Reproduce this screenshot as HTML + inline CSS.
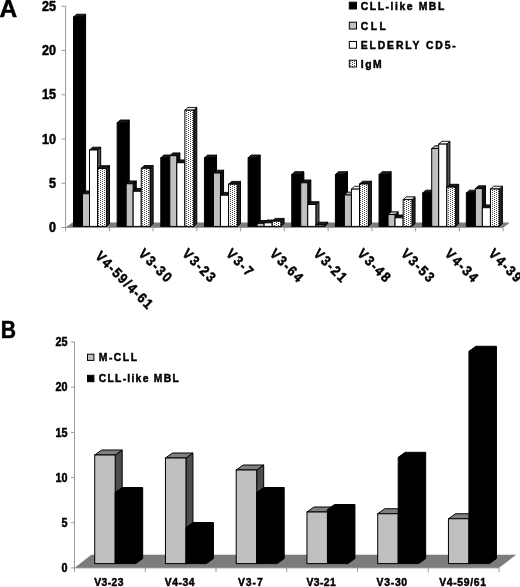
<!DOCTYPE html>
<html><head><meta charset="utf-8"><title>Figure</title>
<style>
html,body{margin:0;padding:0;background:#fff;}
body{width:520px;height:587px;overflow:hidden;font-family:"Liberation Sans",sans-serif;}
svg{display:block;will-change:transform;transform:translateZ(0);}
</style></head><body>
<svg width="520" height="587" viewBox="0 0 520 587">
<defs>
<pattern id="dots" width="4" height="2" patternUnits="userSpaceOnUse">
<rect width="4" height="2" fill="#fff"/>
<rect x="0" y="0" width="1" height="1" fill="#484848"/>
<rect x="2" y="1" width="1" height="1" fill="#484848"/>
</pattern>
</defs>
<rect width="520" height="587" fill="#fff"/>
<polygon points="65.6,227.5 503.4,227.5 510,222.5 72.5,222.5" fill="#7c7c7c"/>
<path d="M65.6 6.3V227.5H503.1" fill="none" stroke="#999" stroke-width="1"/>
<path d="M61.6 227.5H65.6" stroke="#999" stroke-width="1"/>
<text transform="translate(49.1 232.1) scale(0.9 1)" font-size="14" font-family="Liberation Sans, sans-serif" font-weight="bold" stroke="#000" stroke-width="0.5" textLength="7.67" lengthAdjust="spacing" >0</text>
<path d="M61.6 183.26H65.6" stroke="#999" stroke-width="1"/>
<text transform="translate(49.1 187.86) scale(0.9 1)" font-size="14" font-family="Liberation Sans, sans-serif" font-weight="bold" stroke="#000" stroke-width="0.5" textLength="7.67" lengthAdjust="spacing" >5</text>
<path d="M61.6 139.02H65.6" stroke="#999" stroke-width="1"/>
<text transform="translate(42.1 143.62) scale(0.9 1)" font-size="14" font-family="Liberation Sans, sans-serif" font-weight="bold" stroke="#000" stroke-width="0.5" textLength="15.44" lengthAdjust="spacing" >10</text>
<path d="M61.6 94.78H65.6" stroke="#999" stroke-width="1"/>
<text transform="translate(42.1 99.38) scale(0.9 1)" font-size="14" font-family="Liberation Sans, sans-serif" font-weight="bold" stroke="#000" stroke-width="0.5" textLength="15.44" lengthAdjust="spacing" >15</text>
<path d="M61.6 50.54H65.6" stroke="#999" stroke-width="1"/>
<text transform="translate(42.1 55.14) scale(0.9 1)" font-size="14" font-family="Liberation Sans, sans-serif" font-weight="bold" stroke="#000" stroke-width="0.5" textLength="15.44" lengthAdjust="spacing" >20</text>
<path d="M61.6 6.3H65.6" stroke="#999" stroke-width="1"/>
<text transform="translate(42.1 10.9) scale(0.9 1)" font-size="14" font-family="Liberation Sans, sans-serif" font-weight="bold" stroke="#000" stroke-width="0.5" textLength="15.44" lengthAdjust="spacing" >25</text>
<path d="M65.6 227.5V231.3" stroke="#999" stroke-width="1"/>
<path d="M109.35 227.5V231.3" stroke="#999" stroke-width="1"/>
<path d="M153.1 227.5V231.3" stroke="#999" stroke-width="1"/>
<path d="M196.85 227.5V231.3" stroke="#999" stroke-width="1"/>
<path d="M240.6 227.5V231.3" stroke="#999" stroke-width="1"/>
<path d="M284.35 227.5V231.3" stroke="#999" stroke-width="1"/>
<path d="M328.1 227.5V231.3" stroke="#999" stroke-width="1"/>
<path d="M371.85 227.5V231.3" stroke="#999" stroke-width="1"/>
<path d="M415.6 227.5V231.3" stroke="#999" stroke-width="1"/>
<path d="M459.35 227.5V231.3" stroke="#999" stroke-width="1"/>
<path d="M503.1 227.5V231.3" stroke="#999" stroke-width="1"/>
<polygon points="82.5,17.05 85.6,14.25 85.6,223.6 82.5,226.4" fill="#000" stroke="#000" stroke-width="1" stroke-linejoin="miter"/>
<polygon points="73.5,17.05 76.6,14.25 85.6,14.25 82.5,17.05" fill="#1a1a1a" stroke="#000" stroke-width="0.9" stroke-linejoin="miter"/>
<rect x="73.5" y="17.05" width="9" height="209.35" fill="#000" stroke="#000" stroke-width="1"/>
<polygon points="89.5,193.75 92.6,190.95 92.6,223.6 89.5,226.4" fill="#111" stroke="#000" stroke-width="1" stroke-linejoin="miter"/>
<polygon points="82.5,193.75 85.6,190.95 92.6,190.95 89.5,193.75" fill="#1a1a1a" stroke="#000" stroke-width="0.9" stroke-linejoin="miter"/>
<rect x="82.5" y="193.75" width="7" height="32.65" fill="#c0c0c0" stroke="#000" stroke-width="1"/>
<polygon points="97.6,150 100.7,147.2 100.7,223.6 97.6,226.4" fill="#555" stroke="#000" stroke-width="1" stroke-linejoin="miter"/>
<polygon points="89.5,150 92.6,147.2 100.7,147.2 97.6,150" fill="#1a1a1a" stroke="#000" stroke-width="0.9" stroke-linejoin="miter"/>
<rect x="89.5" y="150" width="8.1" height="76.4" fill="#fff" stroke="#000" stroke-width="1"/>
<polygon points="106.4,168.5 109.5,165.7 109.5,223.6 106.4,226.4" fill="#222" stroke="#000" stroke-width="1" stroke-linejoin="miter"/>
<polygon points="97.6,168.5 100.7,165.7 109.5,165.7 106.4,168.5" fill="#1a1a1a" stroke="#000" stroke-width="0.9" stroke-linejoin="miter"/>
<rect x="97.6" y="168.5" width="8.8" height="57.9" fill="url(#dots)" stroke="#000" stroke-width="1"/>
<polygon points="126.15,122.8 129.25,120 129.25,223.6 126.15,226.4" fill="#000" stroke="#000" stroke-width="1" stroke-linejoin="miter"/>
<polygon points="117.15,122.8 120.25,120 129.25,120 126.15,122.8" fill="#1a1a1a" stroke="#000" stroke-width="0.9" stroke-linejoin="miter"/>
<rect x="117.15" y="122.8" width="9" height="103.6" fill="#000" stroke="#000" stroke-width="1"/>
<polygon points="133.15,183.75 136.25,180.95 136.25,223.6 133.15,226.4" fill="#111" stroke="#000" stroke-width="1" stroke-linejoin="miter"/>
<polygon points="126.15,183.75 129.25,180.95 136.25,180.95 133.15,183.75" fill="#1a1a1a" stroke="#000" stroke-width="0.9" stroke-linejoin="miter"/>
<rect x="126.15" y="183.75" width="7" height="42.65" fill="#c0c0c0" stroke="#000" stroke-width="1"/>
<polygon points="141.25,191.25 144.35,188.45 144.35,223.6 141.25,226.4" fill="#555" stroke="#000" stroke-width="1" stroke-linejoin="miter"/>
<polygon points="133.15,191.25 136.25,188.45 144.35,188.45 141.25,191.25" fill="#1a1a1a" stroke="#000" stroke-width="0.9" stroke-linejoin="miter"/>
<rect x="133.15" y="191.25" width="8.1" height="35.15" fill="#fff" stroke="#000" stroke-width="1"/>
<polygon points="150.05,168.3 153.15,165.5 153.15,223.6 150.05,226.4" fill="#222" stroke="#000" stroke-width="1" stroke-linejoin="miter"/>
<polygon points="141.25,168.3 144.35,165.5 153.15,165.5 150.05,168.3" fill="#1a1a1a" stroke="#000" stroke-width="0.9" stroke-linejoin="miter"/>
<rect x="141.25" y="168.3" width="8.8" height="58.1" fill="url(#dots)" stroke="#000" stroke-width="1"/>
<polygon points="169.8,157.8 172.9,155 172.9,223.6 169.8,226.4" fill="#000" stroke="#000" stroke-width="1" stroke-linejoin="miter"/>
<polygon points="160.8,157.8 163.9,155 172.9,155 169.8,157.8" fill="#1a1a1a" stroke="#000" stroke-width="0.9" stroke-linejoin="miter"/>
<rect x="160.8" y="157.8" width="9" height="68.6" fill="#000" stroke="#000" stroke-width="1"/>
<polygon points="176.8,155.7 179.9,152.9 179.9,223.6 176.8,226.4" fill="#111" stroke="#000" stroke-width="1" stroke-linejoin="miter"/>
<polygon points="169.8,155.7 172.9,152.9 179.9,152.9 176.8,155.7" fill="#1a1a1a" stroke="#000" stroke-width="0.9" stroke-linejoin="miter"/>
<rect x="169.8" y="155.7" width="7" height="70.7" fill="#c0c0c0" stroke="#000" stroke-width="1"/>
<polygon points="184.9,162.7 188,159.9 188,223.6 184.9,226.4" fill="#555" stroke="#000" stroke-width="1" stroke-linejoin="miter"/>
<polygon points="176.8,162.7 179.9,159.9 188,159.9 184.9,162.7" fill="#1a1a1a" stroke="#000" stroke-width="0.9" stroke-linejoin="miter"/>
<rect x="176.8" y="162.7" width="8.1" height="63.7" fill="#fff" stroke="#000" stroke-width="1"/>
<polygon points="193.7,110.2 196.8,107.4 196.8,223.6 193.7,226.4" fill="#222" stroke="#000" stroke-width="1" stroke-linejoin="miter"/>
<polygon points="184.9,110.2 188,107.4 196.8,107.4 193.7,110.2" fill="#e8e8e8" stroke="#000" stroke-width="0.9" stroke-linejoin="miter"/>
<rect x="184.9" y="110.2" width="8.8" height="116.2" fill="url(#dots)" stroke="#000" stroke-width="1"/>
<polygon points="213.45,157.9 216.55,155.1 216.55,223.6 213.45,226.4" fill="#000" stroke="#000" stroke-width="1" stroke-linejoin="miter"/>
<polygon points="204.45,157.9 207.55,155.1 216.55,155.1 213.45,157.9" fill="#1a1a1a" stroke="#000" stroke-width="0.9" stroke-linejoin="miter"/>
<rect x="204.45" y="157.9" width="9" height="68.5" fill="#000" stroke="#000" stroke-width="1"/>
<polygon points="220.45,173 223.55,170.2 223.55,223.6 220.45,226.4" fill="#111" stroke="#000" stroke-width="1" stroke-linejoin="miter"/>
<polygon points="213.45,173 216.55,170.2 223.55,170.2 220.45,173" fill="#1a1a1a" stroke="#000" stroke-width="0.9" stroke-linejoin="miter"/>
<rect x="213.45" y="173" width="7" height="53.4" fill="#c0c0c0" stroke="#000" stroke-width="1"/>
<polygon points="228.55,195.2 231.65,192.4 231.65,223.6 228.55,226.4" fill="#555" stroke="#000" stroke-width="1" stroke-linejoin="miter"/>
<polygon points="220.45,195.2 223.55,192.4 231.65,192.4 228.55,195.2" fill="#1a1a1a" stroke="#000" stroke-width="0.9" stroke-linejoin="miter"/>
<rect x="220.45" y="195.2" width="8.1" height="31.2" fill="#fff" stroke="#000" stroke-width="1"/>
<polygon points="237.35,184.2 240.45,181.4 240.45,223.6 237.35,226.4" fill="#222" stroke="#000" stroke-width="1" stroke-linejoin="miter"/>
<polygon points="228.55,184.2 231.65,181.4 240.45,181.4 237.35,184.2" fill="#1a1a1a" stroke="#000" stroke-width="0.9" stroke-linejoin="miter"/>
<rect x="228.55" y="184.2" width="8.8" height="42.2" fill="url(#dots)" stroke="#000" stroke-width="1"/>
<polygon points="257.1,157.8 260.2,155 260.2,223.6 257.1,226.4" fill="#000" stroke="#000" stroke-width="1" stroke-linejoin="miter"/>
<polygon points="248.1,157.8 251.2,155 260.2,155 257.1,157.8" fill="#1a1a1a" stroke="#000" stroke-width="0.9" stroke-linejoin="miter"/>
<rect x="248.1" y="157.8" width="9" height="68.6" fill="#000" stroke="#000" stroke-width="1"/>
<polygon points="264.1,223.3 267.2,220.5 267.2,223.6 264.1,226.4" fill="#111" stroke="#000" stroke-width="1" stroke-linejoin="miter"/>
<polygon points="257.1,223.3 260.2,220.5 267.2,220.5 264.1,223.3" fill="#1a1a1a" stroke="#000" stroke-width="0.9" stroke-linejoin="miter"/>
<rect x="257.1" y="223.3" width="7" height="3.1" fill="#c0c0c0" stroke="#000" stroke-width="1"/>
<polygon points="272.2,222.8 275.3,220 275.3,223.6 272.2,226.4" fill="#555" stroke="#000" stroke-width="1" stroke-linejoin="miter"/>
<polygon points="264.1,222.8 267.2,220 275.3,220 272.2,222.8" fill="#1a1a1a" stroke="#000" stroke-width="0.9" stroke-linejoin="miter"/>
<rect x="264.1" y="222.8" width="8.1" height="3.6" fill="#fff" stroke="#000" stroke-width="1"/>
<polygon points="281,221.2 284.1,218.4 284.1,223.6 281,226.4" fill="#222" stroke="#000" stroke-width="1" stroke-linejoin="miter"/>
<polygon points="272.2,221.2 275.3,218.4 284.1,218.4 281,221.2" fill="#1a1a1a" stroke="#000" stroke-width="0.9" stroke-linejoin="miter"/>
<rect x="272.2" y="221.2" width="8.8" height="5.2" fill="url(#dots)" stroke="#000" stroke-width="1"/>
<polygon points="300.75,174.5 303.85,171.7 303.85,223.6 300.75,226.4" fill="#000" stroke="#000" stroke-width="1" stroke-linejoin="miter"/>
<polygon points="291.75,174.5 294.85,171.7 303.85,171.7 300.75,174.5" fill="#1a1a1a" stroke="#000" stroke-width="0.9" stroke-linejoin="miter"/>
<rect x="291.75" y="174.5" width="9" height="51.9" fill="#000" stroke="#000" stroke-width="1"/>
<polygon points="307.75,182.8 310.85,180 310.85,223.6 307.75,226.4" fill="#111" stroke="#000" stroke-width="1" stroke-linejoin="miter"/>
<polygon points="300.75,182.8 303.85,180 310.85,180 307.75,182.8" fill="#1a1a1a" stroke="#000" stroke-width="0.9" stroke-linejoin="miter"/>
<rect x="300.75" y="182.8" width="7" height="43.6" fill="#c0c0c0" stroke="#000" stroke-width="1"/>
<polygon points="315.85,204.5 318.95,201.7 318.95,223.6 315.85,226.4" fill="#555" stroke="#000" stroke-width="1" stroke-linejoin="miter"/>
<polygon points="307.75,204.5 310.85,201.7 318.95,201.7 315.85,204.5" fill="#1a1a1a" stroke="#000" stroke-width="0.9" stroke-linejoin="miter"/>
<rect x="307.75" y="204.5" width="8.1" height="21.9" fill="#fff" stroke="#000" stroke-width="1"/>
<polygon points="324.65,225 327.75,222.2 327.75,223.6 324.65,226.4" fill="#222" stroke="#000" stroke-width="1" stroke-linejoin="miter"/>
<polygon points="315.85,225 318.95,222.2 327.75,222.2 324.65,225" fill="#1a1a1a" stroke="#000" stroke-width="0.9" stroke-linejoin="miter"/>
<rect x="315.85" y="225" width="8.8" height="1.4" fill="url(#dots)" stroke="#000" stroke-width="1"/>
<polygon points="344.4,174.5 347.5,171.7 347.5,223.6 344.4,226.4" fill="#000" stroke="#000" stroke-width="1" stroke-linejoin="miter"/>
<polygon points="335.4,174.5 338.5,171.7 347.5,171.7 344.4,174.5" fill="#1a1a1a" stroke="#000" stroke-width="0.9" stroke-linejoin="miter"/>
<rect x="335.4" y="174.5" width="9" height="51.9" fill="#000" stroke="#000" stroke-width="1"/>
<polygon points="351.4,195 354.5,192.2 354.5,223.6 351.4,226.4" fill="#111" stroke="#000" stroke-width="1" stroke-linejoin="miter"/>
<polygon points="344.4,195 347.5,192.2 354.5,192.2 351.4,195" fill="#b0b0b0" stroke="#000" stroke-width="0.9" stroke-linejoin="miter"/>
<rect x="344.4" y="195" width="7" height="31.4" fill="#c0c0c0" stroke="#000" stroke-width="1"/>
<polygon points="359.5,189.1 362.6,186.3 362.6,223.6 359.5,226.4" fill="#555" stroke="#000" stroke-width="1" stroke-linejoin="miter"/>
<polygon points="351.4,189.1 354.5,186.3 362.6,186.3 359.5,189.1" fill="#fff" stroke="#000" stroke-width="0.9" stroke-linejoin="miter"/>
<rect x="351.4" y="189.1" width="8.1" height="37.3" fill="#fff" stroke="#000" stroke-width="1"/>
<polygon points="368.3,184 371.4,181.2 371.4,223.6 368.3,226.4" fill="#222" stroke="#000" stroke-width="1" stroke-linejoin="miter"/>
<polygon points="359.5,184 362.6,181.2 371.4,181.2 368.3,184" fill="#1a1a1a" stroke="#000" stroke-width="0.9" stroke-linejoin="miter"/>
<rect x="359.5" y="184" width="8.8" height="42.4" fill="url(#dots)" stroke="#000" stroke-width="1"/>
<polygon points="388.05,174.5 391.15,171.7 391.15,223.6 388.05,226.4" fill="#000" stroke="#000" stroke-width="1" stroke-linejoin="miter"/>
<polygon points="379.05,174.5 382.15,171.7 391.15,171.7 388.05,174.5" fill="#1a1a1a" stroke="#000" stroke-width="0.9" stroke-linejoin="miter"/>
<rect x="379.05" y="174.5" width="9" height="51.9" fill="#000" stroke="#000" stroke-width="1"/>
<polygon points="395.05,214.6 398.15,211.8 398.15,223.6 395.05,226.4" fill="#111" stroke="#000" stroke-width="1" stroke-linejoin="miter"/>
<polygon points="388.05,214.6 391.15,211.8 398.15,211.8 395.05,214.6" fill="#b0b0b0" stroke="#000" stroke-width="0.9" stroke-linejoin="miter"/>
<rect x="388.05" y="214.6" width="7" height="11.8" fill="#c0c0c0" stroke="#000" stroke-width="1"/>
<polygon points="403.15,217.8 406.25,215 406.25,223.6 403.15,226.4" fill="#555" stroke="#000" stroke-width="1" stroke-linejoin="miter"/>
<polygon points="395.05,217.8 398.15,215 406.25,215 403.15,217.8" fill="#1a1a1a" stroke="#000" stroke-width="0.9" stroke-linejoin="miter"/>
<rect x="395.05" y="217.8" width="8.1" height="8.6" fill="#fff" stroke="#000" stroke-width="1"/>
<polygon points="411.95,199.6 415.05,196.8 415.05,223.6 411.95,226.4" fill="#222" stroke="#000" stroke-width="1" stroke-linejoin="miter"/>
<polygon points="403.15,199.6 406.25,196.8 415.05,196.8 411.95,199.6" fill="#e8e8e8" stroke="#000" stroke-width="0.9" stroke-linejoin="miter"/>
<rect x="403.15" y="199.6" width="8.8" height="26.8" fill="url(#dots)" stroke="#000" stroke-width="1"/>
<polygon points="431.7,193 434.8,190.2 434.8,223.6 431.7,226.4" fill="#000" stroke="#000" stroke-width="1" stroke-linejoin="miter"/>
<polygon points="422.7,193 425.8,190.2 434.8,190.2 431.7,193" fill="#1a1a1a" stroke="#000" stroke-width="0.9" stroke-linejoin="miter"/>
<rect x="422.7" y="193" width="9" height="33.4" fill="#000" stroke="#000" stroke-width="1"/>
<polygon points="438.7,148.6 441.8,145.8 441.8,223.6 438.7,226.4" fill="#111" stroke="#000" stroke-width="1" stroke-linejoin="miter"/>
<polygon points="431.7,148.6 434.8,145.8 441.8,145.8 438.7,148.6" fill="#b0b0b0" stroke="#000" stroke-width="0.9" stroke-linejoin="miter"/>
<rect x="431.7" y="148.6" width="7" height="77.8" fill="#c0c0c0" stroke="#000" stroke-width="1"/>
<polygon points="446.8,144.1 449.9,141.3 449.9,223.6 446.8,226.4" fill="#555" stroke="#000" stroke-width="1" stroke-linejoin="miter"/>
<polygon points="438.7,144.1 441.8,141.3 449.9,141.3 446.8,144.1" fill="#fff" stroke="#000" stroke-width="0.9" stroke-linejoin="miter"/>
<rect x="438.7" y="144.1" width="8.1" height="82.3" fill="#fff" stroke="#000" stroke-width="1"/>
<polygon points="455.6,187.1 458.7,184.3 458.7,223.6 455.6,226.4" fill="#222" stroke="#000" stroke-width="1" stroke-linejoin="miter"/>
<polygon points="446.8,187.1 449.9,184.3 458.7,184.3 455.6,187.1" fill="#1a1a1a" stroke="#000" stroke-width="0.9" stroke-linejoin="miter"/>
<rect x="446.8" y="187.1" width="8.8" height="39.3" fill="url(#dots)" stroke="#000" stroke-width="1"/>
<polygon points="475.35,193 478.45,190.2 478.45,223.6 475.35,226.4" fill="#000" stroke="#000" stroke-width="1" stroke-linejoin="miter"/>
<polygon points="466.35,193 469.45,190.2 478.45,190.2 475.35,193" fill="#1a1a1a" stroke="#000" stroke-width="0.9" stroke-linejoin="miter"/>
<rect x="466.35" y="193" width="9" height="33.4" fill="#000" stroke="#000" stroke-width="1"/>
<polygon points="482.35,188.6 485.45,185.8 485.45,223.6 482.35,226.4" fill="#111" stroke="#000" stroke-width="1" stroke-linejoin="miter"/>
<polygon points="475.35,188.6 478.45,185.8 485.45,185.8 482.35,188.6" fill="#1a1a1a" stroke="#000" stroke-width="0.9" stroke-linejoin="miter"/>
<rect x="475.35" y="188.6" width="7" height="37.8" fill="#c0c0c0" stroke="#000" stroke-width="1"/>
<polygon points="490.45,207.7 493.55,204.9 493.55,223.6 490.45,226.4" fill="#555" stroke="#000" stroke-width="1" stroke-linejoin="miter"/>
<polygon points="482.35,207.7 485.45,204.9 493.55,204.9 490.45,207.7" fill="#1a1a1a" stroke="#000" stroke-width="0.9" stroke-linejoin="miter"/>
<rect x="482.35" y="207.7" width="8.1" height="18.7" fill="#fff" stroke="#000" stroke-width="1"/>
<polygon points="499.25,189 502.35,186.2 502.35,223.6 499.25,226.4" fill="#222" stroke="#000" stroke-width="1" stroke-linejoin="miter"/>
<polygon points="490.45,189 493.55,186.2 502.35,186.2 499.25,189" fill="#e8e8e8" stroke="#000" stroke-width="0.9" stroke-linejoin="miter"/>
<rect x="490.45" y="189" width="8.8" height="37.4" fill="url(#dots)" stroke="#000" stroke-width="1"/>
<text transform="translate(94.38 256.9) rotate(45) scale(0.9 1)" font-size="14" font-family="Liberation Sans, sans-serif" font-weight="bold" stroke="#000" stroke-width="0.5" textLength="82.89" lengthAdjust="spacing">V4-59/4-61</text>
<text transform="translate(137.82 254.6) rotate(45) scale(0.9 1)" font-size="14" font-family="Liberation Sans, sans-serif" font-weight="bold" stroke="#000" stroke-width="0.5" textLength="44.44" lengthAdjust="spacing">V3-30</text>
<text transform="translate(181.57 254.6) rotate(45) scale(0.9 1)" font-size="14" font-family="Liberation Sans, sans-serif" font-weight="bold" stroke="#000" stroke-width="0.5" textLength="44.44" lengthAdjust="spacing">V3-23</text>
<text transform="translate(225.32 254.6) rotate(45) scale(0.9 1)" font-size="14" font-family="Liberation Sans, sans-serif" font-weight="bold" stroke="#000" stroke-width="0.5" textLength="35" lengthAdjust="spacing">V3-7</text>
<text transform="translate(269.08 254.6) rotate(45) scale(0.9 1)" font-size="14" font-family="Liberation Sans, sans-serif" font-weight="bold" stroke="#000" stroke-width="0.5" textLength="44.44" lengthAdjust="spacing">V3-64</text>
<text transform="translate(312.83 254.6) rotate(45) scale(0.9 1)" font-size="14" font-family="Liberation Sans, sans-serif" font-weight="bold" stroke="#000" stroke-width="0.5" textLength="44.44" lengthAdjust="spacing">V3-21</text>
<text transform="translate(356.58 254.6) rotate(45) scale(0.9 1)" font-size="14" font-family="Liberation Sans, sans-serif" font-weight="bold" stroke="#000" stroke-width="0.5" textLength="44.44" lengthAdjust="spacing">V3-48</text>
<text transform="translate(400.33 254.6) rotate(45) scale(0.9 1)" font-size="14" font-family="Liberation Sans, sans-serif" font-weight="bold" stroke="#000" stroke-width="0.5" textLength="44.44" lengthAdjust="spacing">V3-53</text>
<text transform="translate(444.08 254.6) rotate(45) scale(0.9 1)" font-size="14" font-family="Liberation Sans, sans-serif" font-weight="bold" stroke="#000" stroke-width="0.5" textLength="44.44" lengthAdjust="spacing">V4-34</text>
<text transform="translate(487.83 254.6) rotate(45) scale(0.9 1)" font-size="14" font-family="Liberation Sans, sans-serif" font-weight="bold" stroke="#000" stroke-width="0.5" textLength="44.44" lengthAdjust="spacing">V4-39</text>
<rect x="349.3" y="2.2" width="7.2" height="6.8" fill="#000" stroke="#000" stroke-width="1"/>
<text transform="translate(360.75 9.5) scale(0.9 1)" font-size="11.5" font-family="Liberation Sans, sans-serif" font-weight="bold" stroke="#000" stroke-width="0.5" textLength="92.78" lengthAdjust="spacing" >CLL-like MBL</text>
<rect x="349.3" y="22.2" width="7.2" height="6.8" fill="#c0c0c0" stroke="#000" stroke-width="1"/>
<text transform="translate(360.75 29.5) scale(0.9 1)" font-size="11.5" font-family="Liberation Sans, sans-serif" font-weight="bold" stroke="#000" stroke-width="0.5" textLength="27.78" lengthAdjust="spacing" >CLL</text>
<rect x="349.3" y="41.45" width="7.2" height="6.8" fill="#fff" stroke="#000" stroke-width="1"/>
<text transform="translate(360.75 48.75) scale(0.9 1)" font-size="11.5" font-family="Liberation Sans, sans-serif" font-weight="bold" stroke="#000" stroke-width="0.5" textLength="105.56" lengthAdjust="spacing" >ELDERLY CD5-</text>
<rect x="349.3" y="60.2" width="7.2" height="6.8" fill="url(#dots)" stroke="#000" stroke-width="1"/>
<text transform="translate(360.75 67.5) scale(0.9 1)" font-size="11.5" font-family="Liberation Sans, sans-serif" font-weight="bold" stroke="#000" stroke-width="0.5" textLength="23.33" lengthAdjust="spacing" >IgM</text>
<text x="-0.5" y="17" font-size="24.5" font-family="Liberation Sans, sans-serif" font-weight="bold" stroke="#000" stroke-width="0.5" text-anchor="start" >A</text>
<text transform="translate(0.7 338) scale(0.9 1)" font-size="23.5" font-family="Liberation Sans, sans-serif" font-weight="bold" stroke="#000" stroke-width="0.5" textLength="17.78" lengthAdjust="spacing" >B</text>
<polygon points="74.5,567.9 498.9,567.9 516.25,554.7 91.25,554.7" fill="#7c7c7c"/>
<path d="M74.5 342V567.9H499" fill="none" stroke="#999" stroke-width="1"/>
<path d="M71 567.9H74.5" stroke="#999" stroke-width="1"/>
<text transform="translate(61.5 572.1) scale(0.9 1)" font-size="12" font-family="Liberation Sans, sans-serif" font-weight="bold" stroke="#000" stroke-width="0.5" textLength="6.67" lengthAdjust="spacing" >0</text>
<path d="M71 522.72H74.5" stroke="#999" stroke-width="1"/>
<text transform="translate(61.5 526.92) scale(0.9 1)" font-size="12" font-family="Liberation Sans, sans-serif" font-weight="bold" stroke="#000" stroke-width="0.5" textLength="6.67" lengthAdjust="spacing" >5</text>
<path d="M71 477.54H74.5" stroke="#999" stroke-width="1"/>
<text transform="translate(55.5 481.74) scale(0.9 1)" font-size="12" font-family="Liberation Sans, sans-serif" font-weight="bold" stroke="#000" stroke-width="0.5" textLength="13.33" lengthAdjust="spacing" >10</text>
<path d="M71 432.36H74.5" stroke="#999" stroke-width="1"/>
<text transform="translate(55.5 436.56) scale(0.9 1)" font-size="12" font-family="Liberation Sans, sans-serif" font-weight="bold" stroke="#000" stroke-width="0.5" textLength="13.33" lengthAdjust="spacing" >15</text>
<path d="M71 387.18H74.5" stroke="#999" stroke-width="1"/>
<text transform="translate(55.5 391.38) scale(0.9 1)" font-size="12" font-family="Liberation Sans, sans-serif" font-weight="bold" stroke="#000" stroke-width="0.5" textLength="13.33" lengthAdjust="spacing" >20</text>
<path d="M71 342H74.5" stroke="#999" stroke-width="1"/>
<text transform="translate(55.5 346.2) scale(0.9 1)" font-size="12" font-family="Liberation Sans, sans-serif" font-weight="bold" stroke="#000" stroke-width="0.5" textLength="13.33" lengthAdjust="spacing" >25</text>
<path d="M74.5 567.9V572.1" stroke="#999" stroke-width="1"/>
<path d="M145.25 567.9V572.1" stroke="#999" stroke-width="1"/>
<path d="M216 567.9V572.1" stroke="#999" stroke-width="1"/>
<path d="M286.75 567.9V572.1" stroke="#999" stroke-width="1"/>
<path d="M357.5 567.9V572.1" stroke="#999" stroke-width="1"/>
<path d="M428.25 567.9V572.1" stroke="#999" stroke-width="1"/>
<path d="M499 567.9V572.1" stroke="#999" stroke-width="1"/>
<polygon points="115.2,455 122.2,450 122.2,558.6 115.2,563.6" fill="#4d4d4d" stroke="#000" stroke-width="1" stroke-linejoin="miter"/>
<polygon points="94.7,455 101.7,450 122.2,450 115.2,455" fill="#808080" stroke="#000" stroke-width="1" stroke-linejoin="miter"/>
<rect x="94.7" y="455" width="20.5" height="108.6" fill="#c0c0c0" stroke="#000" stroke-width="1"/>
<polygon points="115.2,492.5 122.2,487.5 142.7,487.5 142.7,558.6 135.7,563.6 115.2,563.6" fill="#000" stroke="#000" stroke-width="1" stroke-linejoin="miter"/>
<polygon points="185.95,458 192.95,453 192.95,558.6 185.95,563.6" fill="#4d4d4d" stroke="#000" stroke-width="1" stroke-linejoin="miter"/>
<polygon points="165.45,458 172.45,453 192.95,453 185.95,458" fill="#808080" stroke="#000" stroke-width="1" stroke-linejoin="miter"/>
<rect x="165.45" y="458" width="20.5" height="105.6" fill="#c0c0c0" stroke="#000" stroke-width="1"/>
<polygon points="185.95,527.5 192.95,522.5 213.45,522.5 213.45,558.6 206.45,563.6 185.95,563.6" fill="#000" stroke="#000" stroke-width="1" stroke-linejoin="miter"/>
<polygon points="256.7,470 263.7,465 263.7,558.6 256.7,563.6" fill="#4d4d4d" stroke="#000" stroke-width="1" stroke-linejoin="miter"/>
<polygon points="236.2,470 243.2,465 263.7,465 256.7,470" fill="#808080" stroke="#000" stroke-width="1" stroke-linejoin="miter"/>
<rect x="236.2" y="470" width="20.5" height="93.6" fill="#c0c0c0" stroke="#000" stroke-width="1"/>
<polygon points="256.7,492.5 263.7,487.5 284.2,487.5 284.2,558.6 277.2,563.6 256.7,563.6" fill="#000" stroke="#000" stroke-width="1" stroke-linejoin="miter"/>
<polygon points="327.45,512 334.45,507 334.45,558.6 327.45,563.6" fill="#4d4d4d" stroke="#000" stroke-width="1" stroke-linejoin="miter"/>
<polygon points="306.95,512 313.95,507 334.45,507 327.45,512" fill="#808080" stroke="#000" stroke-width="1" stroke-linejoin="miter"/>
<rect x="306.95" y="512" width="20.5" height="51.6" fill="#c0c0c0" stroke="#000" stroke-width="1"/>
<polygon points="327.45,509.5 334.45,504.5 354.95,504.5 354.95,558.6 347.95,563.6 327.45,563.6" fill="#000" stroke="#000" stroke-width="1" stroke-linejoin="miter"/>
<polygon points="398.2,513.75 405.2,508.75 405.2,558.6 398.2,563.6" fill="#4d4d4d" stroke="#000" stroke-width="1" stroke-linejoin="miter"/>
<polygon points="377.7,513.75 384.7,508.75 405.2,508.75 398.2,513.75" fill="#808080" stroke="#000" stroke-width="1" stroke-linejoin="miter"/>
<rect x="377.7" y="513.75" width="20.5" height="49.85" fill="#c0c0c0" stroke="#000" stroke-width="1"/>
<polygon points="398.2,457.3 405.2,452.3 425.7,452.3 425.7,558.6 418.7,563.6 398.2,563.6" fill="#000" stroke="#000" stroke-width="1" stroke-linejoin="miter"/>
<polygon points="468.95,518.75 475.95,513.75 475.95,558.6 468.95,563.6" fill="#4d4d4d" stroke="#000" stroke-width="1" stroke-linejoin="miter"/>
<polygon points="448.45,518.75 455.45,513.75 475.95,513.75 468.95,518.75" fill="#808080" stroke="#000" stroke-width="1" stroke-linejoin="miter"/>
<rect x="448.45" y="518.75" width="20.5" height="44.85" fill="#c0c0c0" stroke="#000" stroke-width="1"/>
<polygon points="468.95,351.25 475.95,346.25 496.45,346.25 496.45,558.6 489.45,563.6 468.95,563.6" fill="#000" stroke="#000" stroke-width="1" stroke-linejoin="miter"/>
<text transform="translate(94.25 585.75) scale(0.9 1)" font-size="11.5" font-family="Liberation Sans, sans-serif" font-weight="bold" stroke="#000" stroke-width="0.5" textLength="32.5" lengthAdjust="spacing" >V3-23</text>
<text transform="translate(164.75 585.75) scale(0.9 1)" font-size="11.5" font-family="Liberation Sans, sans-serif" font-weight="bold" stroke="#000" stroke-width="0.5" textLength="33.06" lengthAdjust="spacing" >V4-34</text>
<text transform="translate(237.88 585.75) scale(0.9 1)" font-size="11.5" font-family="Liberation Sans, sans-serif" font-weight="bold" stroke="#000" stroke-width="0.5" textLength="27.78" lengthAdjust="spacing" >V3-7</text>
<text transform="translate(306.5 585.75) scale(0.9 1)" font-size="11.5" font-family="Liberation Sans, sans-serif" font-weight="bold" stroke="#000" stroke-width="0.5" textLength="32.5" lengthAdjust="spacing" >V3-21</text>
<text transform="translate(376.62 585.75) scale(0.9 1)" font-size="11.5" font-family="Liberation Sans, sans-serif" font-weight="bold" stroke="#000" stroke-width="0.5" textLength="33.89" lengthAdjust="spacing" >V3-30</text>
<text transform="translate(439.25 585.75) scale(0.9 1)" font-size="11.5" font-family="Liberation Sans, sans-serif" font-weight="bold" stroke="#000" stroke-width="0.5" textLength="51.94" lengthAdjust="spacing" >V4-59/61</text>
<rect x="87.5" y="354.2" width="6.4" height="6.2" fill="#c0c0c0" stroke="#000" stroke-width="1"/>
<text transform="translate(98.75 360.75) scale(0.9 1)" font-size="11.5" font-family="Liberation Sans, sans-serif" font-weight="bold" stroke="#000" stroke-width="0.5" textLength="42.5" lengthAdjust="spacing" >M-CLL</text>
<rect x="87.5" y="375.3" width="6.4" height="6.4" fill="#000" stroke="#000" stroke-width="1"/>
<text transform="translate(98.75 382) scale(0.9 1)" font-size="11.5" font-family="Liberation Sans, sans-serif" font-weight="bold" stroke="#000" stroke-width="0.5" textLength="88.89" lengthAdjust="spacing" >CLL-like MBL</text>
</svg>
</body></html>
